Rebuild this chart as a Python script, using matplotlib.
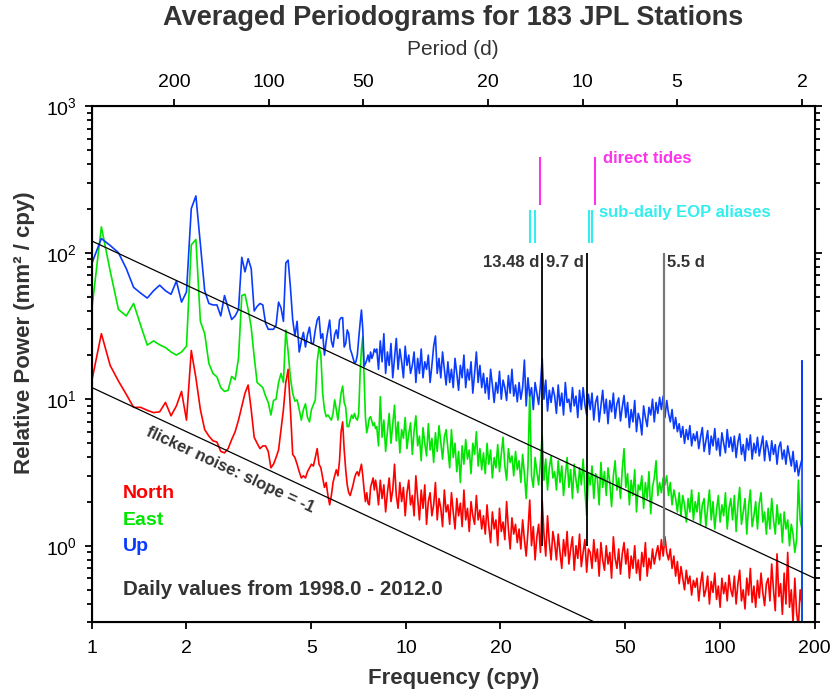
import numpy as np
import matplotlib
matplotlib.use("Agg")
import matplotlib.pyplot as plt
from matplotlib.ticker import FixedLocator, NullLocator, LogLocator

plt.rcParams['font.family'] = ['Liberation Sans', 'DejaVu Sans']

DAYS_PER_YEAR = 365.25
DF = 1 / 14  # periodogram resolution, 14 years of daily data

# low-frequency part, one value per periodogram bin starting at 1 cpy
up_lo = [85, 125, 112, 100, 78, 58, 53, 49, 55, 60,
         55, 52, 64, 46, 54, 200, 244, 115, 55, 45,
         44, 44, 37, 51, 42, 35, 37, 41, 93, 74,
         91, 78, 40, 43, 45, 44, 33, 30, 30, 30,
         32, 46, 42, 34, 85, 89, 58, 35, 27, 34,
         21, 25, 28.6, 22.7, 27.6, 31, 24, 24, 29.7, 34.7,
         36.6, 26, 28, 20, 25, 29.7, 34.7, 25, 22.7, 27.6,
         29.7, 26, 34.7, 36, 36, 22.7, 24, 29.7, 28, 22,
         20.6, 19, 17.6, 18, 20, 26, 33, 40.6, 30, 16.8,
         17.5, 18.5, 20, 18, 21, 19, 20, 22, 21]
east_lo = [42, 150, 75, 41, 37, 45, 32, 23.4, 25, 23.5,
           22.5, 21, 20, 21, 23, 113, 123, 34, 28, 17.5,
           15, 14.2, 12, 11.3, 11.5, 14.3, 13.6, 19, 51, 52,
           41, 31, 19.5, 13, 12.5, 12, 10.5, 9.5, 7.8, 9.8,
           10, 13, 15, 13, 29.7, 21, 14, 11, 9.7, 9.9,
           8.5, 7.2, 8.5, 9.3, 7.5, 7.0, 8.5, 9.2, 9.9, 18,
           22.8, 20, 11, 8.5, 7.6, 7.8, 7.5, 7.2, 8, 9.9,
           8.5, 7.2, 9, 11, 12.3, 9.5, 8.8, 6.5, 6.5, 7.2,
           7.8, 7.4, 8, 7.4, 7.2, 8, 15, 22, 26.7, 14,
           7.5, 5.9, 6.5, 7.4, 7.6, 7.1, 6.6, 6.9, 6.3]
north_lo = [13.5, 28, 17, 13.3, 10.8, 8.8, 8.8, 8.4, 8.1, 8.2,
            9.5, 7.7, 9, 11.3, 7.2, 21.5, 14, 8.5, 6.2, 5.6,
            5.2, 5.1, 4.4, 4.3, 4.6, 5.3, 6.0, 7.2, 8.9, 11,
            12.5, 8.5, 5.5, 5.0, 4.6, 4.8, 4.8, 4.4, 3.4, 3.6,
            4.0, 4.5, 6.2, 8.5, 13, 16, 8.5, 4.2, 4.0, 3.6,
            3.2, 2.9, 3.0, 2.9, 3.2, 3.4, 3.6, 3.5, 4.0, 4.6,
            3.6, 3.4, 2.9, 2.5, 2.7, 2.2, 1.9, 2.2, 2.7, 3.0,
            3.3, 3.0, 3.8, 6.0, 7.0, 4.5, 3.3, 2.6, 2.3, 2.2,
            2.4, 2.6, 2.9, 3.1, 3.2, 3.0, 3.3, 3.6, 3.0, 2.4,
            2.0, 2.3, 1.95, 1.9, 2.5, 2.7, 2.9, 2.4, 2.8]

# high-frequency part, readings on a log-spaced grid from 8.07 to 182.4 cpy
up_hi = [22, 16, 25, 18, 28, 15, 21, 17, 24, 14, 19, 26, 16, 22, 18, 14, 23, 17, 20, 15,
         17, 21, 13, 19, 15, 22, 14, 18, 16, 20, 13, 17, 23, 27, 15, 19, 14, 21, 16, 12.5,
         18, 13, 16, 12, 19, 15, 11.5, 17, 14, 20, 12, 16, 13.5, 18, 11, 15, 21, 13, 17, 12,
         15, 11, 14, 10, 16, 12.5, 9.5, 13, 11, 15.5, 10, 13.5, 12, 9.8, 14.5, 11, 16, 10.5, 12.5, 9.6,
         13, 10, 12, 18.5, 9, 14, 10.5, 12, 8.5, 13, 11, 9.2, 12.5, 19, 10, 13.5, 8.3, 11.5, 9.5, 12,
         10.5, 8, 12.5, 9, 11, 7.8, 13, 9.5, 10, 8.2, 12, 9, 10.5, 7.5, 11.5, 8.5, 12, 9.2, 7.8, 10.8,
         8.5, 11, 7.2, 9.5, 10.5, 7, 9, 11.5, 8, 10, 6.8, 9.8, 8.2, 11, 7.4, 9.3, 10.2, 7.1, 8.8, 10.6,
         7.5, 9.5, 6.4, 8.5, 7, 9.8, 6, 8, 7.2, 5.7, 9, 7.5, 6.5, 8.8, 7.8, 10, 7, 9.5, 8, 10.3,
         8.5, 10.5, 7.5, 9.8, 8, 7, 8.5, 6.3, 7.5, 6, 6.8, 5.5, 6.5, 5, 6.2, 5.3, 6.6, 4.8, 5.8, 5.2,
         6, 4.6, 5.5, 6.4, 4.4, 5.2, 6.1, 4.2, 5.6, 4.8, 6.3, 4.5, 5.4, 4.1, 5.9, 5, 4.3, 6.2, 4.7, 5.5,
         4.4, 5.6, 4, 5.1, 5.8, 4.2, 4.9, 3.8, 5.4, 4.5, 5.7, 3.9, 5, 4.3, 5.5, 4.1, 4.8, 5.6, 3.8, 5.2,
         4.6, 3.8, 5.2, 4.2, 4.9, 3.6, 4.7, 5.1, 3.9, 4.5, 3.6, 4.8, 4.1, 3.5, 4.4, 3.2, 3.8, 3.0, 3.5, 3.9]
east_hi = [6.5, 4.8, 10.4, 5.5, 7.2, 4.4, 6, 8, 5, 6.8, 9.1, 5.2, 7, 4.3, 6.2, 5.4, 7.5, 4.6, 5.8, 6.9,
           4.2, 6.1, 7.7, 4.8, 5.6, 3.8, 6.4, 5, 4.1, 6.8, 4.5, 5.4, 3.7, 5.9, 4.4, 6.6, 5.1, 3.9, 5.5, 6.2,
           4.6, 3.4, 6.2, 4, 5, 3.2, 4.4, 2.7, 4.8, 3.6, 5.3, 3.9, 4.5, 3.1, 5, 4.2, 6, 3.5, 4.6, 3.3,
           4.3, 3.1, 5, 3.6, 4.5, 2.9, 4, 3.4, 4.9, 3.2, 4.2, 5.5, 3.5, 2.8, 4.6, 3.7, 4.1, 3, 4.4, 3.3,
           3.8, 2.7, 4.2, 3.1, 2.1, 3.5, 11, 3, 2.5, 4, 3.2, 2.6, 3.7, 5.7, 2.8, 3.9, 2.4, 3.4, 4.1, 2.9,
           3.2, 2.4, 3.8, 2.7, 3.5, 2.2, 3, 4, 2.5, 3.3, 2.1, 3.6, 2.8, 2.3, 3.4, 2.6, 3.9, 2.4, 1.6, 3.1,
           2.6, 3.5, 2.1, 3.1, 2.9, 1.9, 3.7, 2.5, 3.2, 2.2, 3.4, 2.7, 1.85, 3, 3.8, 2.4, 2.9, 2.1, 3.3, 4.6,
           2.5, 3.1, 1.9, 2.8, 2.2, 3.3, 1.7, 2.6, 2.4, 3, 1.8, 2.7, 2.1, 3.2, 1.65, 2.5, 2.9, 3.8, 2.2, 2.7,
           2.3, 2.9, 2.6, 3, 2.2, 2.7, 1.9, 2.4, 2.1, 1.7, 2.3, 1.6, 2.2, 1.9, 1.45, 2.1, 1.7, 2.4, 1.5, 2,
           1.7, 2.3, 1.4, 1.9, 2.1, 1.35, 1.8, 2.4, 1.5, 2, 1.3, 1.75, 2.2, 1.45, 1.9, 1.6, 2.3, 1.3, 1.8, 2.1,
           1.5, 2.2, 1.25, 1.9, 2.5, 1.4, 1.7, 2.1, 1.2, 1.85, 2.4, 1.35, 1.6, 2, 1.3, 1.95, 2.3, 1.45, 1.7, 1.2,
           1.8, 1.3, 2.1, 1.5, 1.2, 1.9, 1.4, 1.65, 1.05, 1.7, 1.3, 1.5, 1.0, 1.4, 1.2, 0.9, 1.1, 2.8, 1.5, 1.3]
north_hi = [2.5, 1.9, 2.8, 2.1, 2.6, 1.7, 2.3, 2.9, 2, 2.4, 3.6, 2.2, 1.8, 2.7, 2, 2.5, 1.6, 2.3, 2.8, 1.9,
            2.2, 1.6, 3, 2.1, 1.5, 2.4, 1.8, 2.6, 1.4, 2, 2.3, 1.6, 1.9, 2.7, 1.5, 2.1, 1.8, 1.35, 2.4, 1.7,
            1.9, 1.4, 2.3, 1.7, 1.3, 2.1, 1.6, 1.95, 1.35, 2.4, 1.5, 1.8, 1.25, 2, 1.6, 1.4, 2.2, 1.5, 1.75, 1.3,
            1.6, 1.2, 1.9, 1.35, 1.05, 1.7, 1.3, 1.5, 1, 1.8, 1.25, 1.45, 1.1, 2, 1.3, 0.95, 1.55, 1.2, 1.4, 1.05,
            1.3, 0.95, 1.5, 1.1, 0.85, 1.25, 2.05, 1, 1.35, 0.8, 1.15, 1.4, 0.9, 2.05, 1.2, 0.85, 1.6, 1.05, 0.8, 1.25,
            1.05, 0.8, 1.2, 0.9, 0.7, 1.1, 0.85, 1.25, 0.75, 0.95, 1.15, 0.68, 1, 0.82, 1.2, 0.72, 0.9, 1.1, 0.66, 0.95,
            0.9, 0.7, 1.1, 0.78, 0.95, 0.62, 1.05, 0.8, 0.68, 1, 0.75, 0.9, 0.6, 1.15, 0.82, 0.7, 0.95, 0.64, 0.88, 1.05,
            0.75, 0.95, 0.6, 0.85, 0.7, 1, 0.65, 0.8, 0.58, 0.9, 0.72, 1.05, 0.62, 0.82, 0.7, 0.95, 0.75, 0.88, 1, 0.8,
            1.1, 0.85, 1.15, 0.9, 0.8, 0.95, 0.7, 0.85, 0.62, 0.78, 0.55, 0.72, 0.6, 0.5, 0.68, 0.55, 0.62, 0.46, 0.58, 0.52,
            0.6, 0.42, 0.55, 0.66, 0.45, 0.5, 0.62, 0.4, 0.57, 0.48, 0.65, 0.43, 0.53, 0.38, 0.6, 0.47, 0.56, 0.42, 0.63, 0.5,
            0.45, 0.62, 0.4, 0.55, 0.68, 0.42, 0.5, 0.37, 0.6, 0.46, 0.7, 0.41, 0.53, 0.38, 0.58, 0.44, 0.65, 0.48, 0.39, 0.55,
            0.6, 0.42, 0.75, 0.5, 0.36, 0.88, 0.45, 0.55, 0.34, 0.65, 0.4, 0.9, 0.38, 0.5, 0.3, 0.6, 0.35, 0.28, 0.5, 0.4]

# last bin at the Nyquist frequency (spike, then drop off the chart)
nyq_freq = [182.5, 182.5]
up_nyq = [18.3, 0.05]
east_nyq = [1.2, 0.05]
north_nyq = [0.6, 0.05]

# flicker noise reference lines (slope -1)
flicker_f = [1, 200]
flicker_hi = [120, 0.6]
flicker_lo = [12, 0.06]

# marked periods (days)
marked_periods = [13.48, 9.7, 5.5]
marked_labels = ['13.48 d', '9.7 d', '5.5 d']
tide_periods = [13.66, 9.13]
eop_periods = [14.76, 14.19, 9.56, 9.35]

top_periods = [200, 100, 50, 20, 10, 5, 2]
bottom_ticks = [1, 2, 5, 10, 20, 50, 100, 200]

RED, GREEN, BLUE = '#ff0000', '#00e600', '#0a3cff'
DARK = '#333333'

fig = plt.figure(figsize=(8.33, 6.94), dpi=100)
ax = fig.add_axes([0.1104, 0.1033, 0.8674, 0.7437])


def spectrum(lo, hi, nyq):
    f = np.concatenate([1 + np.arange(len(lo)) * DF,
                        np.geomspace(8.07, 182.4, len(hi)),
                        nyq_freq])
    return f, np.concatenate([lo, hi, nyq])


for lo, hi, nyq, col in [(north_lo, north_hi, north_nyq, RED),
                         (east_lo, east_hi, east_nyq, GREEN),
                         (up_lo, up_hi, up_nyq, BLUE)]:
    f, p = spectrum(lo, hi, nyq)
    ax.plot(f, p, color=col, lw=1.2)

ax.plot(flicker_f, flicker_hi, color='black', lw=0.9)
ax.plot(flicker_f, flicker_lo, color='black', lw=0.9)

# marked periods
mf = DAYS_PER_YEAR / np.array(marked_periods)
ax.vlines(mf[:2], 1, 100, color='black', lw=1.3)
ax.vlines(mf[2], 1, 100, color='#777777', lw=1.6)
nudge = 10 ** (3 / 314)
ax.text(mf[0] / nudge, 97, marked_labels[0], ha='right', va='top',
        fontsize=12, fontweight='bold', color=DARK)
ax.text(mf[1] / nudge, 97, marked_labels[1], ha='right', va='top',
        fontsize=12, fontweight='bold', color=DARK)
ax.text(mf[2] * nudge, 97, marked_labels[2], ha='left', va='top',
        fontsize=12, fontweight='bold', color=DARK)

ax.vlines(DAYS_PER_YEAR / np.array(tide_periods), 210, 450, color='#ff33ee', lw=1.5)
ax.vlines(DAYS_PER_YEAR / np.array(eop_periods), 116, 195, color='#33eeee', lw=1.5)
ax.text(42.4, 436, 'direct tides', color='#ff33ee', fontsize=12,
        fontweight='bold', va='center')
ax.text(41.2, 189, 'sub-daily EOP aliases', color='#33eeee', fontsize=12,
        fontweight='bold', va='center')

ax.text(2.75, 3.3, 'flicker noise: slope = -1', rotation=-25, rotation_mode='anchor',
        ha='center', va='center', fontsize=12, fontweight='bold', color=DARK)

ax.text(0.043, 0.249, 'North', transform=ax.transAxes, color=RED,
        fontsize=14, fontweight='bold', va='center')
ax.text(0.043, 0.198, 'East', transform=ax.transAxes, color=GREEN,
        fontsize=14, fontweight='bold', va='center')
ax.text(0.043, 0.146, 'Up', transform=ax.transAxes, color=BLUE,
        fontsize=14, fontweight='bold', va='center')
ax.text(0.043, 0.063, 'Daily values from 1998.0 - 2012.0', transform=ax.transAxes,
        color=DARK, fontsize=14.8, fontweight='bold', va='center')

ax.set_xscale('log')
ax.set_yscale('log')
ax.set_xlim(1, 200)
ax.set_ylim(0.3, 1000)

ax.xaxis.set_major_locator(FixedLocator(bottom_ticks))
ax.xaxis.set_minor_locator(NullLocator())
ax.set_xticklabels([str(t) for t in bottom_ticks])
ax.yaxis.set_major_locator(FixedLocator([1, 10, 100, 1000]))
ax.yaxis.set_minor_locator(LogLocator(base=10, subs=np.arange(2, 10)))
ax.set_yticklabels([r'$\mathregular{10^{%d}}$' % e for e in range(4)])

ax.tick_params(which='both', direction='out', width=1.3, labelsize=14, right=True)
ax.tick_params(which='major', length=5)
ax.tick_params(which='minor', length=3.5, labelright=False)
ax.tick_params(axis='x', pad=8)
ax.tick_params(axis='y', pad=6)
for s in ax.spines.values():
    s.set_linewidth(1.5)

ax2 = ax.twiny()
ax2.set_xscale('log')
ax2.set_xlim(1, 200)
ax2.xaxis.set_major_locator(FixedLocator([DAYS_PER_YEAR / p for p in top_periods]))
ax2.xaxis.set_minor_locator(NullLocator())
ax2.set_xticklabels([str(p) for p in top_periods])
ax2.tick_params(direction='out', length=5, width=1.3, labelsize=14, pad=6)

fig.text(0.5441, 0.974, 'Averaged Periodograms for 183 JPL Stations', ha='center',
         va='center', fontsize=19.5, fontweight='bold', color=DARK)
fig.text(0.5441, 0.928, 'Period (d)', ha='center', va='center', fontsize=15, color=DARK)
fig.text(0.5441, 0.022, 'Frequency (cpy)', ha='center', va='center', fontsize=16,
         fontweight='bold', color=DARK)
fig.text(0.030, 0.52, 'Relative Power (mm² / cpy)', ha='center', va='center',
         rotation=90, fontsize=16, fontweight='bold', color=DARK)

fig.savefig('out.png', dpi=100)
